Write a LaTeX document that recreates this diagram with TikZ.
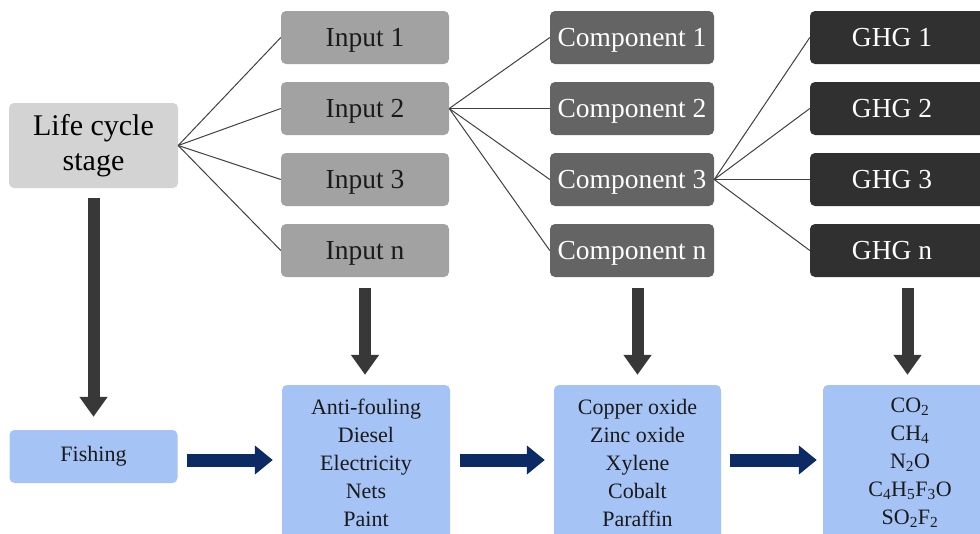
\documentclass[tikz,border=0pt]{standalone}
\usepackage{fontspec}
\setmainfont{Liberation Serif}
\usetikzlibrary{arrows.meta}
\definecolor{lcsgray}{HTML}{D3D3D3}
\definecolor{ingray}{HTML}{A2A2A2}
\definecolor{compgray}{HTML}{646464}
\definecolor{ghggray}{HTML}{303030}
\definecolor{intext}{HTML}{1A1A1A}
\definecolor{linkgray}{HTML}{404040}
\definecolor{arrowgray}{HTML}{383838}
\definecolor{navyarrow}{HTML}{0C2A64}
\definecolor{lightblue}{HTML}{A6C3F5}
\tikzset{
  box/.style={rectangle, rounded corners=5pt, inner sep=0pt, align=center},
  topbox/.style={box, minimum height=53pt, text height=18pt, text depth=0pt, font=\fontsize{27.5}{32}\selectfont},
  lcsbox/.style={box, fill=lcsgray, minimum width=169pt, minimum height=85pt, font=\fontsize{30}{35}\selectfont, text=black},
  inbox/.style={topbox, fill=ingray, minimum width=168pt, text=intext},
  compbox/.style={topbox, fill=compgray, minimum width=164pt, text=white},
  ghgbox/.style={topbox, fill=ghggray, minimum width=180pt, text=white},
  bluebox/.style={box, fill=lightblue, font=\fontsize{22}{28}\selectfont, text=intext},
  link/.style={draw=linkgray, line width=1pt},
  downarrow/.style={draw=arrowgray, line width=12pt, -{Triangle[width=27pt,length=20pt]}},
  rightarrow/.style={draw=navyarrow, line width=13pt, -{Triangle[width=28pt,length=18pt]}}
}
\begin{document}
\begin{tikzpicture}[x=1pt,y=-1pt]
\useasboundingbox (0,0) rectangle (980,533);
\clip (0,0) rectangle (980,533);
% top row
\node[lcsbox] (lcs) at (93.5,145.5) {Life cycle\\stage};
\node[inbox] (in1) at (365,37.5) {Input 1};
\node[inbox] (in2) at (365,108.5) {Input 2};
\node[inbox] (in3) at (365,179.5) {Input 3};
\node[inbox] (inn) at (365,250.5) {Input n};
\node[compbox] (c1) at (632,37.5) {Component 1};
\node[compbox] (c2) at (632,108.5) {Component 2};
\node[compbox] (c3) at (632,179.5) {Component 3};
\node[compbox] (cn) at (632,250.5) {Component n};
\node[ghgbox] (g1) at (900,37.5) {GHG 1\kern16pt};
\node[ghgbox] (g2) at (900,108.5) {GHG 2\kern16pt};
\node[ghgbox] (g3) at (900,179.5) {GHG 3\kern16pt};
\node[ghgbox] (gn) at (900,250.5) {GHG n\kern16pt};
% bottom row
\node[bluebox, minimum width=168pt, minimum height=53pt] (fish) at (93.5,456.5) {Fishing};
\node[bluebox, minimum width=168pt, minimum height=156pt] (inb) at (366,463) {Anti-fouling\\Diesel\\Electricity\\Nets\\Paint};
\node[bluebox, minimum width=167pt, minimum height=156pt] (cb) at (637.5,463) {Copper oxide\\Zinc oxide\\Xylene\\Cobalt\\Paraffin};
\node[bluebox, minimum width=174pt, minimum height=156pt] (gb) at (910,463) {CO\textsubscript{2}\\CH\textsubscript{4}\\N\textsubscript{2}O\\C\textsubscript{4}H\textsubscript{5}F\textsubscript{3}O\\SO\textsubscript{2}F\textsubscript{2}};
% links
\foreach \t in {in1,in2,in3,inn} \draw[link] (lcs.east) -- (\t.west);
\foreach \t in {c1,c2,c3,cn} \draw[link] (in2.east) -- (\t.west);
\foreach \t in {g1,g2,g3,gn} \draw[link] (c3.east) -- (\t.west);
% down arrows
\draw[downarrow, shorten <=10pt, shorten >=13pt] (lcs.south) -- (fish.north);
\draw[downarrow, shorten <=11pt, shorten >=10pt] (inn.south) -- (inn.south |- inb.north);
\draw[downarrow, shorten <=11pt, shorten >=10pt] (cb.north |- cn.south) -- (cb.north);
\draw[downarrow, shorten <=11pt, shorten >=10pt] ([xshift=-2.5pt]gb.north |- gn.south) -- ([xshift=-2.5pt]gb.north);
% right arrows
\draw[rightarrow, shorten <=9pt, shorten >=9pt] ([yshift=-3.5pt]fish.east) -- ([yshift=-3.5pt]fish.east -| inb.west);
\draw[rightarrow, shorten <=10pt, shorten >=9pt] ([yshift=-3.5pt]fish.east -| inb.east) -- ([yshift=-3.5pt]fish.east -| cb.west);
\draw[rightarrow, shorten <=9pt, shorten >=6pt] ([yshift=-3.5pt]fish.east -| cb.east) -- ([yshift=-3.5pt]fish.east -| gb.west);
\end{tikzpicture}
\end{document}
